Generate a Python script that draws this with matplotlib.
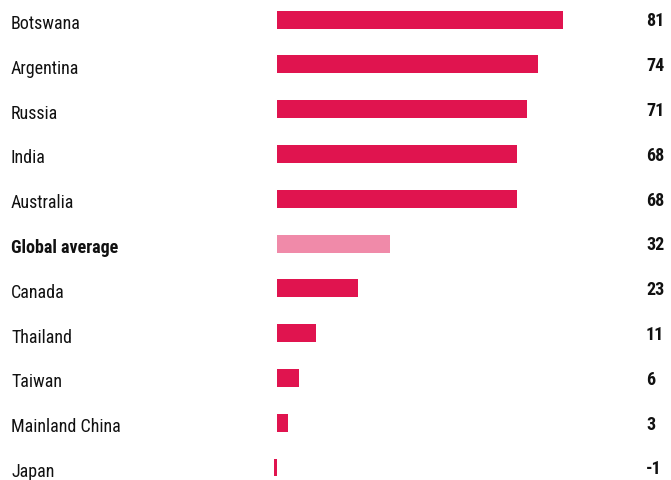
import matplotlib
matplotlib.use("Agg")
import matplotlib.pyplot as plt
import matplotlib.transforms as mtransforms

categories = ["Botswana", "Argentina", "Russia", "India", "Australia", "Global average",
              "Canada", "Thailand", "Taiwan", "Mainland China", "Japan"]
values = [81, 74, 71, 68, 68, 32, 23, 11, 6, 3, -1]
highlight = "Global average"

fam = ["Roboto Condensed", "DejaVu Sans"]

W, H = 671, 481
fig = plt.figure(figsize=(W / 100, H / 100), dpi=100)
ax = fig.add_axes([0, 0, 1, 1])

zero_px = 277.5
px_per_unit = 3.52
row0 = 20.5
step = 44.8

ax.set_xlim(-zero_px / px_per_unit, (W - zero_px) / px_per_unit)
ax.set_ylim((H - row0) / step, -row0 / step)
ax.axis("off")

tr = mtransforms.blended_transform_factory(ax.transAxes, ax.transData)
for i, (c, v) in enumerate(zip(categories, values)):
    col = "#F08AA9" if c == highlight else "#E0144F"
    ax.barh(i, v, height=18 / step, color=col, linewidth=0)
    ax.text(11 / W, i + 0.08, c, transform=tr,
            ha="left", va="center", fontsize=13, family=fam,
            fontweight="bold" if c == highlight else "normal", color="#111111")
    ax.text(646 / W, i + 0.02, f"{v}", transform=tr,
            ha="left", va="center", fontsize=13, family=fam, fontweight="bold", color="#111111")

fig.savefig("out.png", dpi=100)
